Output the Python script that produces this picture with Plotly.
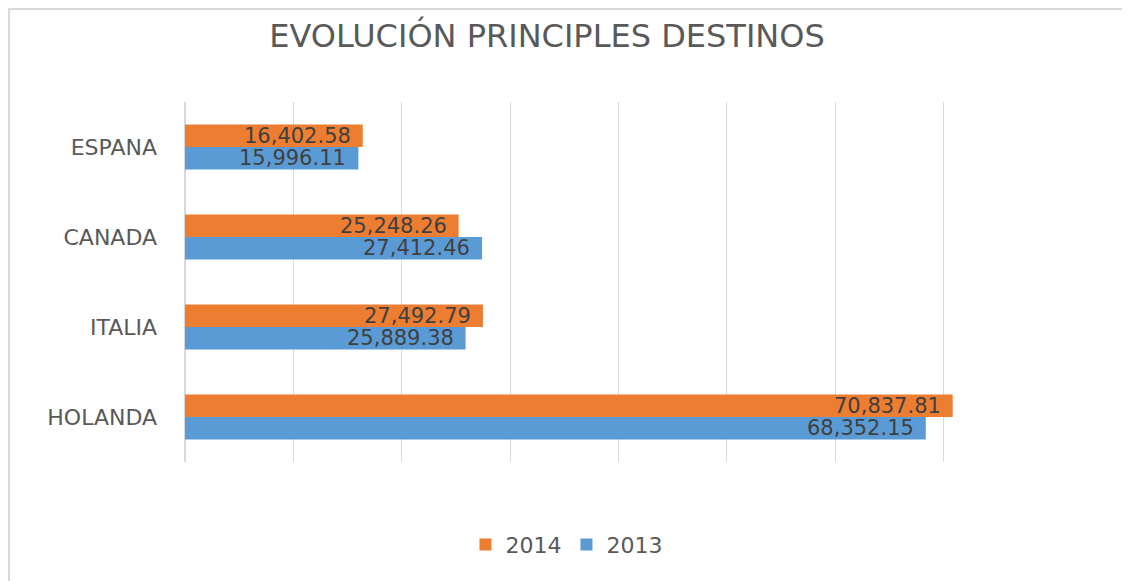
import plotly.graph_objects as go

categories = ["HOLANDA", "ITALIA", "CANADA", "ESPANA"]
values_2014 = [70837.81, 27492.79, 25248.26, 16402.58]
values_2013 = [68352.15, 25889.38, 27412.46, 15996.11]

fig = go.Figure()

# 2013 first so that 2014 sits above it in each pair
fig.add_trace(
    go.Bar(
        y=categories,
        x=values_2013,
        orientation="h",
        name="2013",
        marker=dict(color="#5B9BD5", line=dict(width=0)),
    )
)

fig.add_trace(
    go.Bar(
        y=categories,
        x=values_2014,
        orientation="h",
        name="2014",
        marker=dict(color="#ED7D31", line=dict(width=0)),
    )
)

# data labels (annotations so the font is not shrunk to the bar height)
for cat, v13, v14 in zip(categories, values_2013, values_2014):
    for v, shift in ((v14, 11), (v13, -11)):
        fig.add_annotation(
            x=v,
            y=cat,
            text=f"{v:,.2f}",
            showarrow=False,
            xanchor="right",
            yanchor="middle",
            xshift=-10,
            yshift=shift,
            font=dict(size=21, color="#404040", family="DejaVu Sans"),
        )

fig.update_layout(
    width=1130,
    height=581,
    barmode="group",
    bargap=0.5,
    bargroupgap=0,
    plot_bgcolor="white",
    paper_bgcolor="white",
    margin=dict(l=177, r=86, t=94, b=127),
    title=dict(
        text="EVOLUCIÓN PRINCIPLES DESTINOS",
        x=(547 - 8) / 1130,
        xanchor="center",
        y=0.953,
        yanchor="middle",
        font=dict(size=32, color="#595959", family="DejaVu Sans"),
    ),
    xaxis=dict(
        range=[0, 80000],
        dtick=10000,
        showticklabels=False,
        showgrid=True,
        gridcolor="#D9D9D9",
        gridwidth=1,
        zeroline=True,
        zerolinecolor="#D9D9D9",
        showline=False,
    ),
    yaxis=dict(
        tickfont=dict(size=22, color="#595959", family="DejaVu Sans"),
        ticks="",
        ticklabelstandoff=27,
        showline=False,
    ),
    legend=dict(
        orientation="h",
        x=0.44,
        xanchor="center",
        y=-0.23,
        yanchor="middle",
        traceorder="reversed",
        font=dict(size=22, color="#595959", family="DejaVu Sans"),
    ),
    showlegend=True,
)

# light frame around the chart (only left and top edges fall inside the page)
fig.add_shape(
    type="rect",
    xref="paper",
    yref="paper",
    x0=-0.203,
    x1=1.3,
    y0=-0.6,
    y1=1.258,
    line=dict(color="#D9D9D9", width=2),
    layer="below",
)

fig.write_html("out.html")
